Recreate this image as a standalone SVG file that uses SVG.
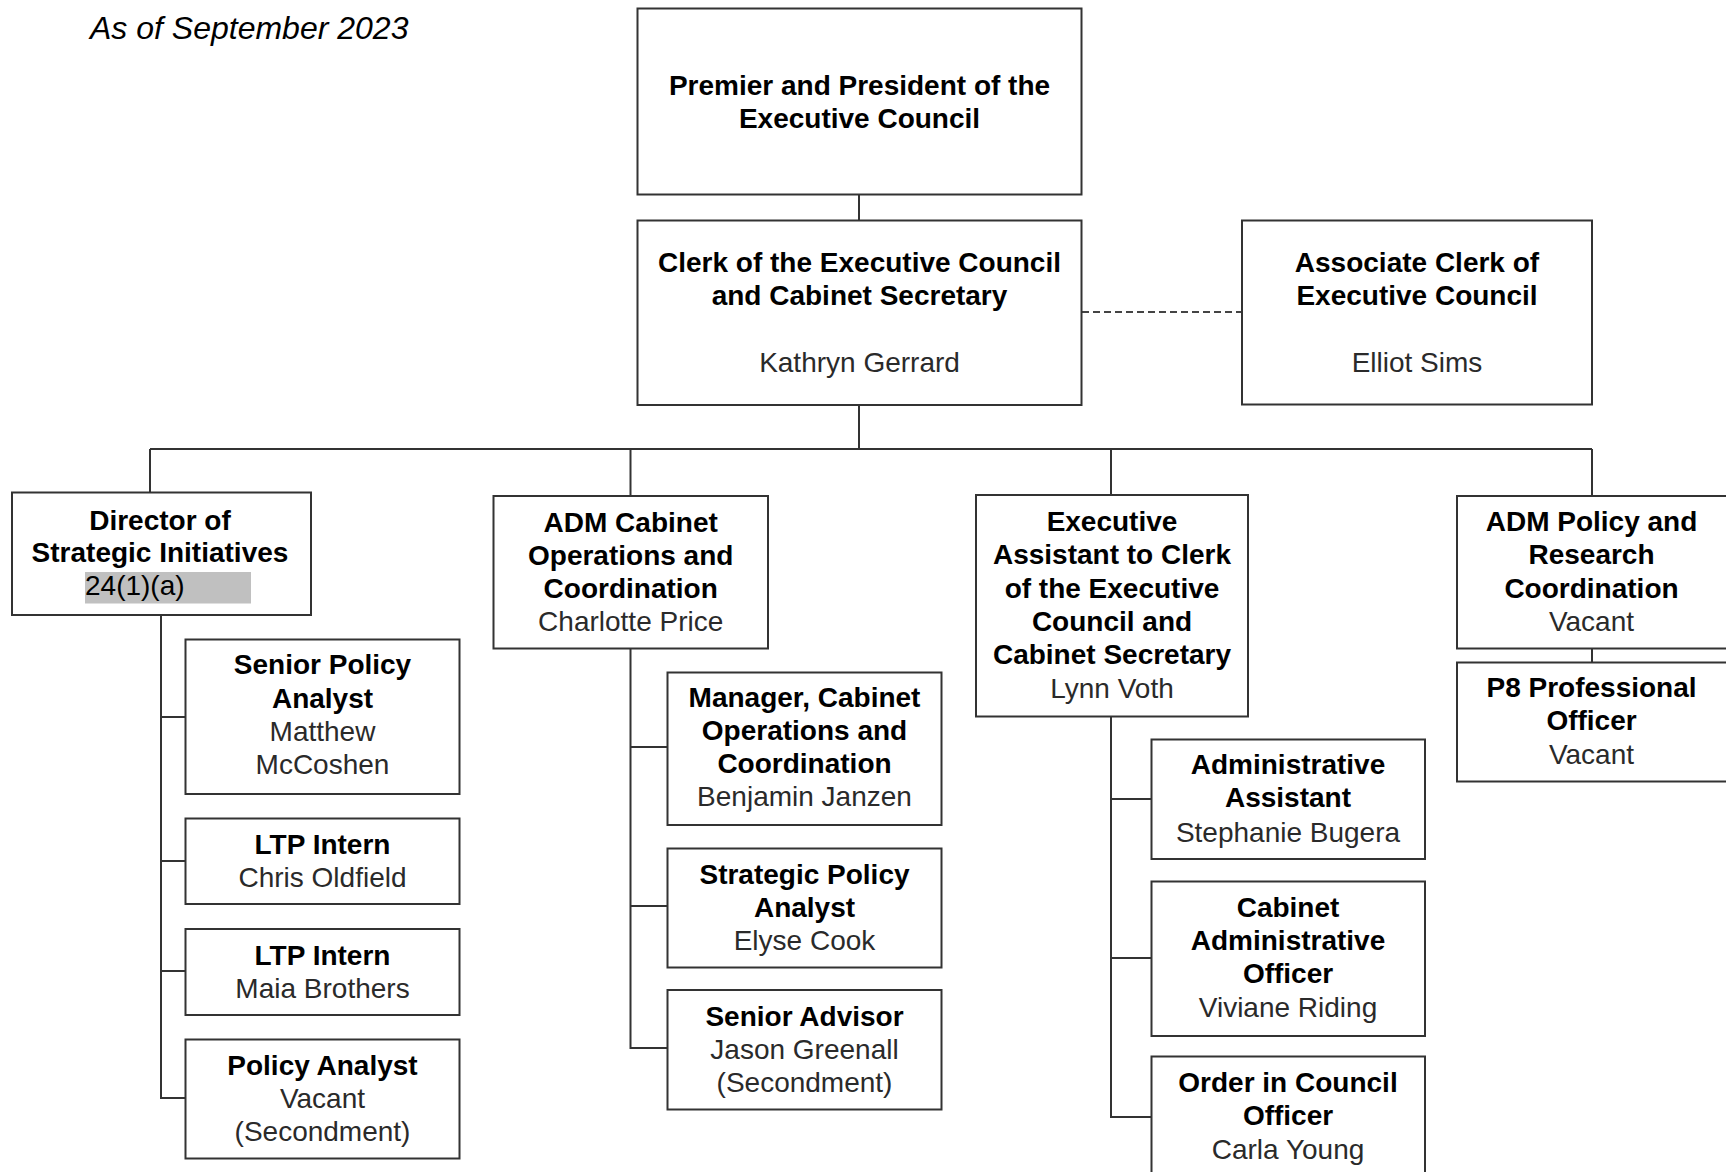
<svg xmlns="http://www.w3.org/2000/svg" width="1726" height="1172" viewBox="0 0 1726 1172">
<style>
.box{fill:#fff;stroke:#333;stroke-width:2}
.ln{fill:none;stroke:#333;stroke-width:2}
.dash{fill:none;stroke:#444;stroke-width:2;stroke-dasharray:7,4}
text{font-family:"Liberation Sans",Arial,Helvetica,sans-serif;font-size:28px;text-anchor:middle}
.b{font-weight:bold;fill:#000}
.r{fill:#2a2a2a}
.note{font-style:italic;font-size:32px;text-anchor:start;fill:#000}
</style>
<rect width="1726" height="1172" fill="#fff"/>
<text class="note" x="90" y="39">As of September 2023</text>
<g id="connectors">
<line class="ln" x1="859" y1="194" x2="859" y2="220"/>
<line class="ln" x1="859" y1="405" x2="859" y2="449"/>
<line class="dash" x1="1082" y1="312" x2="1242" y2="312"/>
<line class="ln" x1="150" y1="449" x2="1592" y2="449"/>
<line class="ln" x1="150" y1="449" x2="150" y2="492"/>
<line class="ln" x1="630.5" y1="449" x2="630.5" y2="496"/>
<line class="ln" x1="1111" y1="449" x2="1111" y2="495"/>
<line class="ln" x1="1592" y1="449" x2="1592" y2="496"/>
<polyline class="ln" points="161,615 161,1098 185,1098"/>
<line class="ln" x1="161" y1="717" x2="185" y2="717"/>
<line class="ln" x1="161" y1="861" x2="185" y2="861"/>
<line class="ln" x1="161" y1="971" x2="185" y2="971"/>
<polyline class="ln" points="630.5,648 630.5,1048 667,1048"/>
<line class="ln" x1="630.5" y1="747" x2="667" y2="747"/>
<line class="ln" x1="630.5" y1="906" x2="667" y2="906"/>
<polyline class="ln" points="1111,717 1111,1117 1151,1117"/>
<line class="ln" x1="1111" y1="799" x2="1151" y2="799"/>
<line class="ln" x1="1111" y1="958" x2="1151" y2="958"/>
<line class="ln" x1="1592" y1="648" x2="1592" y2="662"/>
</g>
<g id="premier">
<rect class="box" x="637.5" y="8.5" width="444" height="186"/>
<text class="b" x="859.5" y="95">Premier and President of the</text>
<text class="b" x="859.5" y="128">Executive Council</text>
</g>
<g id="clerk">
<rect class="box" x="637.5" y="220.5" width="444" height="184.5"/>
<text class="b" x="859.5" y="271.5">Clerk of the Executive Council</text>
<text class="b" x="859.5" y="305">and Cabinet Secretary</text>
<text class="r" x="859.5" y="371.5">Kathryn Gerrard</text>
</g>
<g id="associate-clerk">
<rect class="box" x="1242" y="220.5" width="350" height="184"/>
<text class="b" x="1417" y="271.5">Associate Clerk of</text>
<text class="b" x="1417" y="305">Executive Council</text>
<text class="r" x="1417" y="371.5">Elliot Sims</text>
</g>
<g id="director">
<rect class="box" x="12" y="492.5" width="299" height="122.5"/>
<text class="b" x="160" y="529.5">Director of</text>
<text class="b" x="160" y="562">Strategic Initiatives</text>
<rect x="85" y="572" width="166" height="31.5" fill="#c0c0c0"/>
<text x="85" y="594.5" style="text-anchor:start;fill:#000">24(1)(a)</text>
</g>
<g id="senior-policy-analyst">
<rect class="box" x="185.5" y="639.5" width="274" height="154.5"/>
<text class="b" x="322.5" y="674">Senior Policy</text>
<text class="b" x="322.5" y="707.5">Analyst</text>
<text class="r" x="322.5" y="740.5">Matthew</text>
<text class="r" x="322.5" y="773.5">McCoshen</text>
</g>
<g id="ltp-intern-1">
<rect class="box" x="185.5" y="818.5" width="274" height="85.5"/>
<text class="b" x="322.5" y="854">LTP Intern</text>
<text class="r" x="322.5" y="887">Chris Oldfield</text>
</g>
<g id="ltp-intern-2">
<rect class="box" x="185.5" y="929" width="274" height="86"/>
<text class="b" x="322.5" y="964.5">LTP Intern</text>
<text class="r" x="322.5" y="997.5">Maia Brothers</text>
</g>
<g id="policy-analyst">
<rect class="box" x="185.5" y="1039.5" width="274" height="119"/>
<text class="b" x="322.5" y="1075">Policy Analyst</text>
<text class="r" x="322.5" y="1108">Vacant</text>
<text class="r" x="322.5" y="1141">(Secondment)</text>
</g>
<g id="adm-cabinet">
<rect class="box" x="493.5" y="496" width="274.5" height="152.5"/>
<text class="b" x="630.7" y="531.5">ADM Cabinet</text>
<text class="b" x="630.7" y="564.5">Operations and</text>
<text class="b" x="630.7" y="597.5">Coordination</text>
<text class="r" x="630.7" y="630.5">Charlotte Price</text>
</g>
<g id="manager-cabinet">
<rect class="box" x="667.5" y="672.5" width="274" height="152.5"/>
<text class="b" x="804.5" y="707">Manager, Cabinet</text>
<text class="b" x="804.5" y="740">Operations and</text>
<text class="b" x="804.5" y="773">Coordination</text>
<text class="r" x="804.5" y="806">Benjamin Janzen</text>
</g>
<g id="strategic-policy-analyst">
<rect class="box" x="667.5" y="848.5" width="274" height="119"/>
<text class="b" x="804.5" y="883.5">Strategic Policy</text>
<text class="b" x="804.5" y="916.5">Analyst</text>
<text class="r" x="804.5" y="950">Elyse Cook</text>
</g>
<g id="senior-advisor">
<rect class="box" x="667.5" y="990" width="274" height="119.5"/>
<text class="b" x="804.5" y="1026">Senior Advisor</text>
<text class="r" x="804.5" y="1059">Jason Greenall</text>
<text class="r" x="804.5" y="1092">(Secondment)</text>
</g>
<g id="executive-assistant">
<rect class="box" x="976" y="495" width="272" height="221.5"/>
<text class="b" x="1112" y="531">Executive</text>
<text class="b" x="1112" y="564">Assistant to Clerk</text>
<text class="b" x="1112" y="597.5">of the Executive</text>
<text class="b" x="1112" y="630.5">Council and</text>
<text class="b" x="1112" y="664">Cabinet Secretary</text>
<text class="r" x="1112" y="698">Lynn Voth</text>
</g>
<g id="administrative-assistant">
<rect class="box" x="1151.5" y="739.5" width="273.5" height="119.5"/>
<text class="b" x="1288" y="773.5">Administrative</text>
<text class="b" x="1288" y="807">Assistant</text>
<text class="r" x="1288" y="841.5">Stephanie Bugera</text>
</g>
<g id="cabinet-administrative-officer">
<rect class="box" x="1151.5" y="881.5" width="273.5" height="154.5"/>
<text class="b" x="1288" y="916.5">Cabinet</text>
<text class="b" x="1288" y="950">Administrative</text>
<text class="b" x="1288" y="983">Officer</text>
<text class="r" x="1288" y="1016.5">Viviane Riding</text>
</g>
<g id="order-in-council-officer">
<rect class="box" x="1151.5" y="1056.5" width="273.5" height="130"/>
<text class="b" x="1288" y="1091.5">Order in Council</text>
<text class="b" x="1288" y="1125">Officer</text>
<text class="r" x="1288" y="1158.5">Carla Young</text>
</g>
<g id="adm-policy">
<rect class="box" x="1457" y="496" width="275" height="152.5"/>
<text class="b" x="1591.5" y="531">ADM Policy and</text>
<text class="b" x="1591.5" y="564">Research</text>
<text class="b" x="1591.5" y="597.5">Coordination</text>
<text class="r" x="1591.5" y="630.5">Vacant</text>
</g>
<g id="p8-professional-officer">
<rect class="box" x="1457" y="662.5" width="275" height="119"/>
<text class="b" x="1591.5" y="697">P8 Professional</text>
<text class="b" x="1591.5" y="730">Officer</text>
<text class="r" x="1591.5" y="763.5">Vacant</text>
</g>
</svg>
